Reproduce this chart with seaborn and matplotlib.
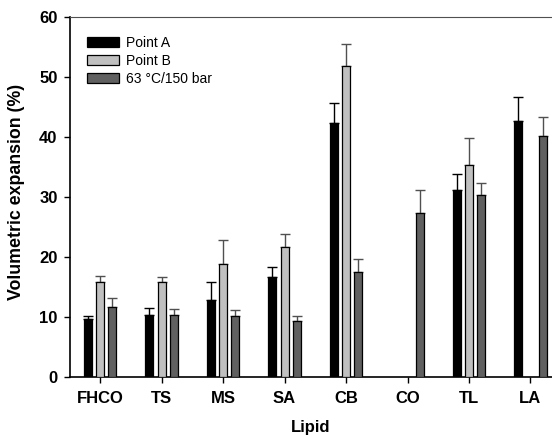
import numpy as np
import pandas as pd
import matplotlib
matplotlib.use("Agg")
import matplotlib.pyplot as plt
import seaborn as sns

lipids = ["FHCO", "TS", "MS", "SA", "CB", "CO", "TL", "LA"]
series = ["Point A", "Point B", "63 \u00b0C/150 bar"]
point_a = [9.7, 10.3, 12.9, 16.6, 42.4, np.nan, 31.1, 42.6]
point_b = [15.8, 15.9, 18.9, 21.6, 51.9, np.nan, 35.3, np.nan]
cond_c = [11.6, 10.3, 10.1, 9.3, 17.5, 27.3, 30.4, 40.1]
err_a = [0.4, 1.2, 3.0, 1.7, 3.2, np.nan, 2.7, 4.0]
err_b = [1.0, 0.8, 4.0, 2.3, 3.6, np.nan, 4.5, np.nan]
err_c = [1.5, 1.0, 1.0, 0.8, 2.1, 3.9, 1.9, 3.2]

colors = ["#000000", "#c0c0c0", "#606060"]
err_colors = ["#000000", "#505050", "#505050"]

rows = []
for s, vals, errs in zip(series, [point_a, point_b, cond_c], [err_a, err_b, err_c]):
    for lip, v, e in zip(lipids, vals, errs):
        rows.append({"Lipid": lip, "Series": s, "Value": v, "Err": e})
df = pd.DataFrame(rows)

sns.set_style("ticks", {"text.color": "black", "axes.labelcolor": "black",
                        "xtick.color": "black", "ytick.color": "black",
                        "axes.edgecolor": "black"})
plt.rcParams["font.family"] = ["Liberation Sans", "DejaVu Sans"]

fig = plt.figure(figsize=(5.52, 4.38), dpi=100)
ax = fig.add_axes([70 / 552, (438 - 377) / 438, (552 - 70) / 552, 360 / 438])

sns.barplot(data=df.dropna(subset=["Value"]), x="Lipid", y="Value", hue="Series",
            order=lipids, hue_order=series, palette=colors, width=0.6, gap=0.35,
            edgecolor="black", linewidth=0.9, errorbar=None, ax=ax, zorder=3)

# upward-only error bars
errmap = {(r.Series, r.Lipid): r.Err for r in df.itertuples()}
for s, cont, ec in zip(series, ax.containers, err_colors):
    for bar in cont:
        h = bar.get_height()
        if np.isnan(h):
            continue
        xc = bar.get_x() + bar.get_width() / 2
        idx = int(round(xc))
        e = errmap[(s, lipids[idx])]
        ax.errorbar(xc, h, yerr=[[0], [e]], fmt="none", ecolor=ec,
                    elinewidth=1.0, capsize=3.5, capthick=1.0, zorder=2)

ax.set_xlim(-0.49, 7.35)
ax.set_ylim(0, 60)
ax.set_yticks([0, 10, 20, 30, 40, 50, 60])
ax.tick_params(axis="y", labelsize=12, length=4, width=1, pad=5, colors="black")
ax.tick_params(axis="x", labelsize=12, length=4, width=1, pad=6, colors="black")
for lbl in ax.get_xticklabels() + ax.get_yticklabels():
    lbl.set_fontweight("bold")
ax.set_xlabel("Lipid", fontsize=12, fontweight="bold", labelpad=10, color="black")
ax.set_ylabel("Volumetric expansion (%)", fontsize=12.8, fontweight="bold", color="black")
ax.yaxis.set_label_coords(-0.093, 0.515)

ax.spines["right"].set_visible(False)
ax.spines["top"].set_color("#505050")
for sp in ["left", "bottom"]:
    ax.spines[sp].set_linewidth(1.2)
    ax.spines[sp].set_color("black")

leg = ax.legend(loc="upper left", bbox_to_anchor=(17 / 482, 1 - 19 / 360), frameon=False,
                fontsize=10, handlelength=2.3, handleheight=0.75,
                labelspacing=0.28, handletextpad=0.5, borderaxespad=0, borderpad=0)
for t in leg.get_texts():
    t.set_color("black")
for p in leg.get_patches():
    p.set_edgecolor("black")
    p.set_linewidth(0.9)

fig.savefig("out.png", dpi=100)
